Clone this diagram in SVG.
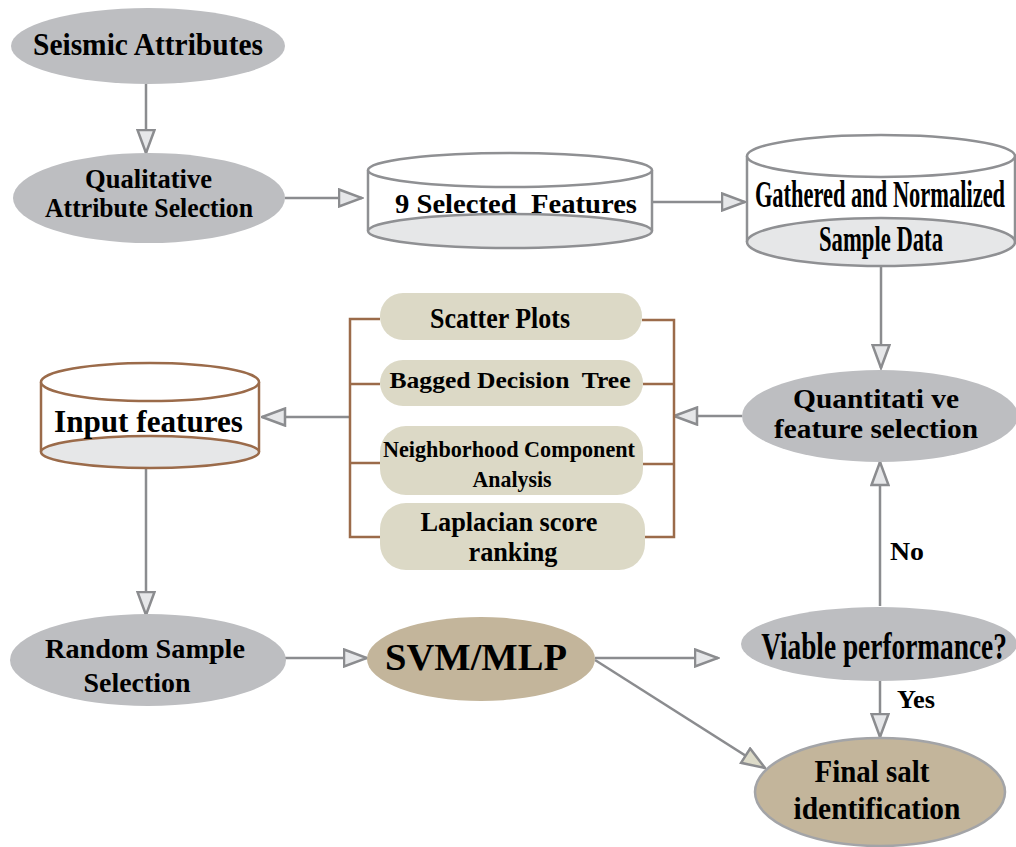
<svg xmlns="http://www.w3.org/2000/svg" width="1016" height="847" viewBox="0 0 1016 847">
<style>
.t{font-family:"Liberation Serif","Times New Roman",serif;font-weight:bold;fill:#000;text-anchor:middle}
.gray{fill:#bdbec1;stroke:none}
.tan{fill:#c3b59b;stroke:none}
.box{fill:#dcd9c6;stroke:none}
.conn{stroke:#8b8c8f;stroke-width:2.5;fill:none}
.br{stroke:#9b6b4a;stroke-width:2.5;fill:none}
.cylg{stroke:#8f9093;stroke-width:2.5}
.cylb{stroke:#9b6b4a;stroke-width:2.5}
</style>
<defs>
<marker id="ah" viewBox="0 0 26 20" refX="24.5" refY="10" markerWidth="26" markerHeight="20" markerUnits="userSpaceOnUse" orient="auto">
<path d="M1.5,1.5 L24.5,10 L1.5,18.5 Z" fill="#e6e7e9" stroke="#8b8c8f" stroke-width="2.5"/>
</marker>
<marker id="ahb" viewBox="0 0 26 20" refX="24.5" refY="10" markerWidth="26" markerHeight="20" markerUnits="userSpaceOnUse" orient="auto">
<path d="M1.5,1.5 L24.5,10 L1.5,18.5 Z" fill="#dddbc9" stroke="#8b8c8f" stroke-width="2.5"/>
</marker>
</defs>
<rect width="1016" height="847" fill="#fff"/>

<g id="connectors">
<line class="conn" x1="146" y1="84" x2="146" y2="153" marker-end="url(#ah)"/>
<line class="conn" x1="285" y1="198" x2="362" y2="198" marker-end="url(#ah)"/>
<line class="conn" x1="652" y1="202" x2="745" y2="202" marker-end="url(#ah)"/>
<line class="conn" x1="881" y1="266" x2="881" y2="368" marker-end="url(#ah)"/>
<line class="conn" x1="742" y1="416" x2="674" y2="416" marker-end="url(#ah)"/>
<line class="conn" x1="349" y1="417" x2="262" y2="417" marker-end="url(#ah)"/>
<line class="conn" x1="146" y1="468" x2="146" y2="615" marker-end="url(#ah)"/>
<line class="conn" x1="285" y1="658" x2="367" y2="658" marker-end="url(#ah)"/>
<line class="conn" x1="595" y1="658" x2="718" y2="658" marker-end="url(#ah)"/>
<line class="conn" x1="595" y1="660" x2="765" y2="768" marker-end="url(#ahb)"/>
<line class="conn" x1="880" y1="606" x2="880" y2="462" marker-end="url(#ah)"/>
<line class="conn" x1="880" y1="680" x2="880" y2="737" marker-end="url(#ah)"/>
<text class="t" x="907" y="560" font-size="26" textLength="34" lengthAdjust="spacingAndGlyphs">No</text>
<text class="t" x="916" y="708" font-size="26" textLength="38" lengthAdjust="spacingAndGlyphs">Yes</text>
</g>

<g id="bracket">
<path class="br" d="M380,319 H350 V537 H380 M350,384 H380 M350,463 H380"/>
<path class="br" d="M642,320 H674 V537 H645 M643,384 H674 M643,464 H674"/>
</g>

<g id="seismic">
<ellipse class="gray" cx="148" cy="46" rx="137" ry="38"/>
<text class="t" x="148" y="55" font-size="31" textLength="230" lengthAdjust="spacingAndGlyphs">Seismic  Attributes</text>
</g>

<g id="qualitative">
<ellipse class="gray" cx="149" cy="198" rx="136" ry="45"/>
<text class="t" x="148.5" y="188" font-size="28" textLength="127" lengthAdjust="spacingAndGlyphs">Qualitative</text>
<text class="t" x="149" y="217" font-size="28" textLength="208" lengthAdjust="spacingAndGlyphs">Attribute Selection</text>
</g>

<g id="selected">
<rect x="368" y="170" width="284" height="61" fill="#fff"/>
<line class="cylg" x1="368" y1="170" x2="368" y2="231"/>
<line class="cylg" x1="652" y1="170" x2="652" y2="231"/>
<ellipse class="cylg" cx="510" cy="231" rx="142" ry="17" fill="#e6e7e8"/>
<ellipse class="cylg" cx="510" cy="170" rx="142" ry="17" fill="#fff"/>
<text class="t" x="516" y="213" font-size="28" textLength="242" lengthAdjust="spacingAndGlyphs" xml:space="preserve">9 Selected  Features</text>
</g>

<g id="gathered">
<rect x="747" y="156" width="268" height="86" fill="#fff"/>
<line class="cylg" x1="747" y1="156" x2="747" y2="242"/>
<line class="cylg" x1="1015" y1="156" x2="1015" y2="242"/>
<ellipse class="cylg" cx="881" cy="242" rx="134" ry="24" fill="#e6e7e8"/>
<ellipse class="cylg" cx="881" cy="156" rx="134" ry="21" fill="#fff"/>
<text class="t" transform="translate(880,207) scale(0.6,1)" x="0" y="0" font-size="38" textLength="417" lengthAdjust="spacingAndGlyphs">Gathered and Normalized</text>
<text class="t" x="881" y="251" font-size="36" textLength="124" lengthAdjust="spacingAndGlyphs">Sample Data</text>
</g>

<g id="scatter">
<rect class="box" x="380" y="293" width="262" height="47" rx="23"/>
<text class="t" x="500" y="328" font-size="30" textLength="140" lengthAdjust="spacingAndGlyphs">Scatter Plots</text>
</g>

<g id="bagged">
<rect class="box" x="380" y="360" width="263" height="46" rx="23"/>
<text class="t" x="510" y="388" font-size="24" textLength="241" lengthAdjust="spacingAndGlyphs" xml:space="preserve">Bagged Decision  Tree</text>
</g>

<g id="nca">
<rect class="box" x="380" y="426" width="263" height="69" rx="26"/>
<text class="t" x="509" y="457" font-size="24" textLength="252" lengthAdjust="spacingAndGlyphs">Neighborhood Component</text>
<text class="t" x="512" y="487" font-size="24" textLength="79" lengthAdjust="spacingAndGlyphs">Analysis</text>
</g>

<g id="laplacian">
<rect class="box" x="380" y="503" width="265" height="67" rx="26"/>
<text class="t" x="509" y="531" font-size="27" textLength="177" lengthAdjust="spacingAndGlyphs">Laplacian score</text>
<text class="t" x="513" y="561" font-size="27" textLength="89" lengthAdjust="spacingAndGlyphs">ranking</text>
</g>

<g id="input">
<rect x="41" y="382" width="218" height="70" fill="#fff"/>
<line class="cylb" x1="41" y1="382" x2="41" y2="452"/>
<line class="cylb" x1="259" y1="382" x2="259" y2="452"/>
<ellipse class="cylb" cx="150" cy="452" rx="109" ry="16" fill="#e6e7e8"/>
<ellipse class="cylb" cx="150" cy="382" rx="109" ry="19" fill="#fff"/>
<text class="t" x="148.5" y="432" font-size="31" textLength="189" lengthAdjust="spacingAndGlyphs">Input features</text>
</g>

<g id="quantitative">
<ellipse class="gray" cx="880" cy="416" rx="138" ry="46"/>
<text class="t" x="876" y="408" font-size="28" textLength="166" lengthAdjust="spacingAndGlyphs" xml:space="preserve">Quantitati ve</text>
<text class="t" x="876" y="438" font-size="28" textLength="204" lengthAdjust="spacingAndGlyphs">feature selection</text>
</g>

<g id="random">
<ellipse class="gray" cx="148" cy="660" rx="138" ry="46"/>
<text class="t" x="145" y="658" font-size="28" textLength="200" lengthAdjust="spacingAndGlyphs">Random Sample</text>
<text class="t" x="137" y="692" font-size="28" textLength="107" lengthAdjust="spacingAndGlyphs">Selection</text>
</g>

<g id="svm">
<ellipse class="tan" cx="481" cy="659" rx="114" ry="42"/>
<text class="t" x="476" y="670" font-size="37" textLength="182" lengthAdjust="spacingAndGlyphs">SVM/MLP</text>
</g>

<g id="viable">
<ellipse class="gray" cx="879" cy="644" rx="138" ry="37"/>
<text class="t" transform="translate(884,659) scale(0.74,1)" x="0" y="0" font-size="37" textLength="332" lengthAdjust="spacingAndGlyphs">Viable performance?</text>
</g>

<g id="final">
<ellipse cx="880" cy="792" rx="125" ry="54" fill="#c3b59b" stroke="#a3a4a7" stroke-width="2.5"/>
<text class="t" x="872" y="782" font-size="32" textLength="115" lengthAdjust="spacingAndGlyphs">Final salt</text>
<text class="t" x="877" y="819" font-size="32" textLength="167" lengthAdjust="spacingAndGlyphs">identification</text>
</g>
</svg>
